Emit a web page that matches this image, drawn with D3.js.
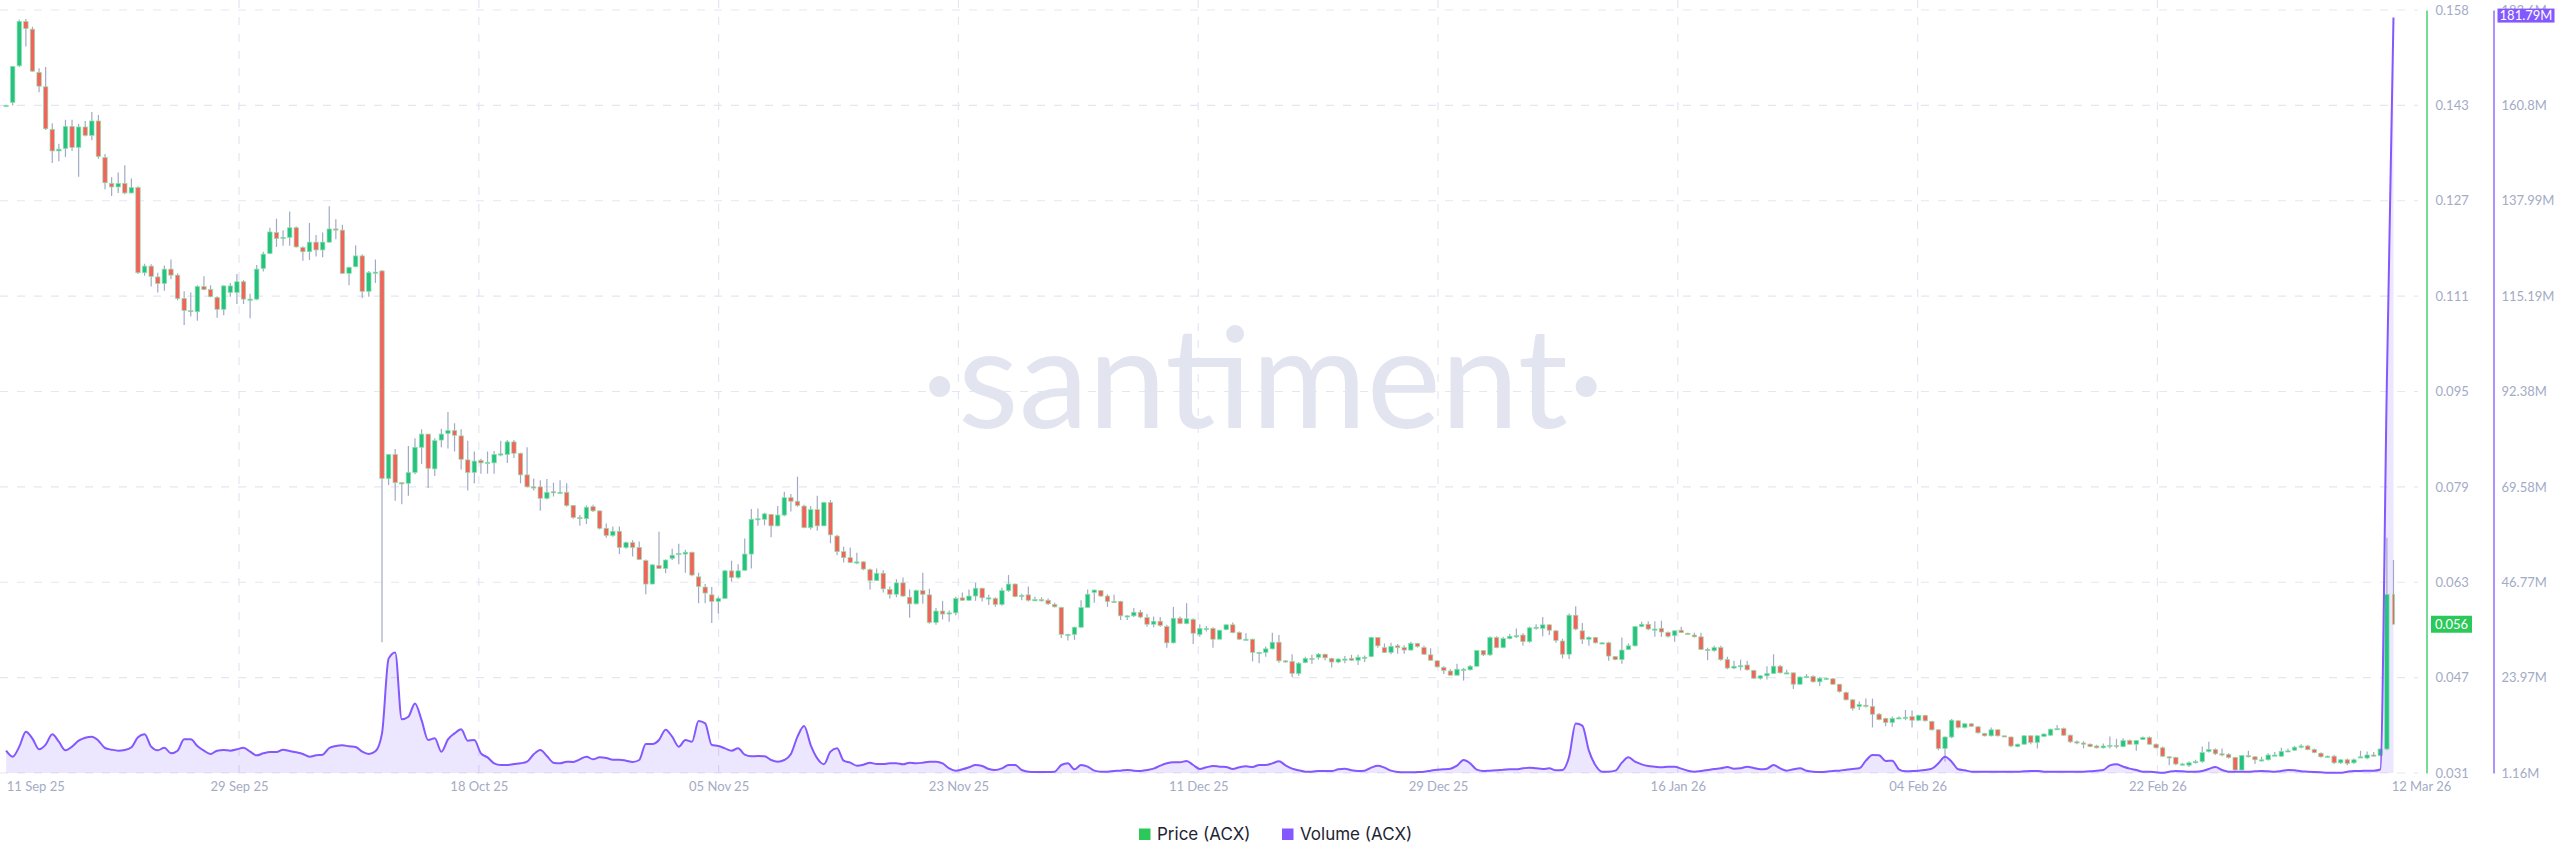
<!DOCTYPE html>
<html><head><meta charset="utf-8">
<script src="https://cdn.jsdelivr.net/npm/d3@7"></script>
<style>
html,body{margin:0;padding:0;background:#fff;}
svg{display:block;}
</style></head>
<body>
<svg id="chart" width="2560" height="867"></svg>
<script>
// ---- DATA (12h candles, ACX) ----
const opens = [
.1424,.1430,.1491,.1565,.1552,.1480,.1456,.1385,.1349,.1353,
.1390,.1355,.1389,.1375,.1399,.1338,.1295,.1289,.1295,.1279,
.1288,.1146,.1157,.1139,.1128,.1152,.1142,.1103,.1083,.1081,
.1123,.1118,.1105,.1085,.1113,.1113,.1131,.1102,.1102,.1153,
.1178,.1213,.1204,.1205,.1221,.1188,.1181,.1197,.1184,.1197,
.1219,.1217,.1145,.1156,.1174,.1115,.1146,.1149,.0803,.0843,
.0796,.0795,.0813,.0855,.0877,.0819,.0867,.0878,.0883,.0874,
.0834,.0813,.0833,.0829,.0829,.0843,.0843,.0864,.0845,.0809,
.0789,.0789,.0770,.0781,.0779,.0780,.0758,.0738,.0736,.0756,
.0749,.0720,.0708,.0715,.0688,.0696,.0688,.0666,.0627,.0658,
.0653,.0670,.0677,.0677,.0680,.0639,.0622,.0609,.0598,.0603,
.0649,.0638,.0650,.0677,.0735,.0735,.0743,.0724,.0742,.0771,
.0765,.0757,.0721,.0751,.0724,.0763,.0707,.0681,.0671,.0663,
.0664,.0651,.0633,.0645,.0618,.0610,.0629,.0605,.0594,.0616,
.0609,.0563,.0582,.0577,.0579,.0604,.0600,.0607,.0620,.0604,
.0603,.0593,.0616,.0627,.0606,.0609,.0600,.0601,.0600,.0593,
.0588,.0543,.0543,.0555,.0588,.0613,.0616,.0607,.0598,.0598,
.0574,.0574,.0580,.0571,.0560,.0565,.0556,.0529,.0570,.0561,
.0568,.0543,.0553,.0553,.0535,.0551,.0559,.0546,.0535,.0535,
.0513,.0513,.0519,.0530,.0499,.0498,.0478,.0496,.0503,.0505,
.0510,.0503,.0497,.0502,.0503,.0500,.0505,.0506,.0538,.0521,
.0513,.0524,.0521,.0517,.0528,.0521,.0509,.0499,.0488,.0482,
.0475,.0485,.0484,.0490,.0516,.0509,.0538,.0521,.0536,.0540,
.0542,.0531,.0554,.0553,.0559,.0549,.0532,.0510,.0575,.0549,
.0535,.0538,.0529,.0529,.0506,.0501,.0518,.0524,.0556,.0560,
.0552,.0553,.0546,.0541,.0550,.0545,.0542,.0539,.0518,.0516,
.0521,.0501,.0487,.0490,.0492,.0483,.0470,.0474,.0478,.0490,
.0479,.0479,.0460,.0472,.0473,.0464,.0470,.0469,.0460,.0446,
.0434,.0423,.0425,.0423,.0410,.0403,.0396,.0404,.0405,.0406,
.0400,.0408,.0398,.0384,.0353,.0372,.0399,.0388,.0394,.0389,
.0378,.0374,.0384,.0374,.0372,.0356,.0360,.0374,.0363,.0373,
.0375,.0385,.0386,.0375,.0364,.0362,.0360,.0357,.0354,.0357,
.0358,.0356,.0366,.0360,.0368,.0371,.0360,.0354,.0339,.0338,
.0327,.0325,.0329,.0331,.0348,.0351,.0344,.0343,.0338,.0317,
.0341,.0339,.0334,.0334,.0342,.0340,.0348,.0350,.0355,.0357,
.0351,.0345,.0339,.0340,.0329,.0334,.0329,.0338,.0337,.0342,
.0341,.0352,.0610];
const highs = [
.1426,.1490,.1568,.1569,.1556,.1487,.1489,.1395,.1361,.1401,
.1401,.1394,.1399,.1414,.1409,.1344,.1305,.1313,.1325,.1303,
.1290,.1161,.1160,.1146,.1158,.1168,.1145,.1115,.1113,.1125,
.1140,.1125,.1107,.1125,.1129,.1144,.1134,.1111,.1159,.1181,
.1221,.1236,.1217,.1248,.1223,.1190,.1229,.1209,.1213,.1257,
.1235,.1226,.1156,.1192,.1177,.1149,.1168,.1150,.0843,.0852,
.0797,.0857,.0870,.0885,.0877,.0870,.0886,.0914,.0895,.0885,
.0866,.0848,.0836,.0848,.0849,.0866,.0867,.0867,.0846,.0855,
.0803,.0800,.0802,.0796,.0800,.0795,.0758,.0742,.0758,.0759,
.0749,.0728,.0723,.0723,.0698,.0700,.0698,.0668,.0660,.0714,
.0668,.0686,.0694,.0684,.0681,.0646,.0627,.0622,.0606,.0651,
.0666,.0660,.0703,.0752,.0753,.0746,.0744,.0757,.0781,.0777,
.0806,.0759,.0757,.0774,.0764,.0767,.0709,.0689,.0688,.0679,
.0665,.0653,.0653,.0650,.0623,.0635,.0638,.0618,.0618,.0646,
.0619,.0587,.0599,.0583,.0606,.0613,.0618,.0629,.0621,.0609,
.0605,.0621,.0642,.0628,.0611,.0623,.0606,.0605,.0603,.0596,
.0589,.0544,.0556,.0600,.0618,.0618,.0617,.0610,.0609,.0599,
.0575,.0587,.0584,.0577,.0573,.0572,.0559,.0589,.0573,.0595,
.0570,.0560,.0557,.0555,.0551,.0560,.0563,.0548,.0545,.0536,
.0514,.0523,.0546,.0542,.0500,.0510,.0497,.0506,.0509,.0512,
.0511,.0504,.0503,.0507,.0509,.0509,.0508,.0539,.0538,.0528,
.0529,.0527,.0525,.0531,.0529,.0524,.0520,.0500,.0490,.0485,
.0494,.0487,.0492,.0517,.0517,.0540,.0540,.0539,.0544,.0553,
.0545,.0556,.0560,.0572,.0560,.0550,.0536,.0578,.0590,.0562,
.0540,.0539,.0530,.0531,.0507,.0538,.0528,.0557,.0564,.0565,
.0565,.0566,.0548,.0550,.0556,.0546,.0546,.0546,.0521,.0524,
.0524,.0506,.0499,.0501,.0499,.0484,.0475,.0490,.0510,.0492,
.0484,.0479,.0473,.0477,.0475,.0472,.0471,.0470,.0460,.0448,
.0435,.0431,.0436,.0436,.0412,.0404,.0406,.0406,.0417,.0416,
.0409,.0409,.0399,.0385,.0373,.0402,.0400,.0395,.0395,.0390,
.0379,.0388,.0385,.0374,.0373,.0361,.0375,.0375,.0375,.0378,
.0386,.0392,.0388,.0376,.0366,.0365,.0361,.0359,.0361,.0373,
.0369,.0370,.0368,.0367,.0373,.0373,.0361,.0356,.0340,.0339,
.0329,.0331,.0334,.0356,.0364,.0353,.0353,.0345,.0339,.0342,
.0349,.0340,.0339,.0345,.0347,.0354,.0353,.0357,.0360,.0359,
.0353,.0346,.0341,.0342,.0335,.0336,.0336,.0349,.0348,.0347,
.0353,.0704,.0667];
const lows = [
.1423,.1425,.1489,.1523,.1481,.1447,.1384,.1329,.1332,.1339,
.1349,.1306,.1373,.1367,.1336,.1285,.1274,.1279,.1277,.1278,
.1144,.1141,.1123,.1113,.1116,.1135,.1100,.1059,.1073,.1066,
.1117,.1105,.1071,.1075,.1106,.1094,.1094,.1070,.1100,.1148,
.1177,.1189,.1191,.1191,.1188,.1166,.1167,.1173,.1172,.1196,
.1202,.1144,.1125,.1155,.1104,.1106,.1129,.0530,.0792,.0766,
.0760,.0774,.0810,.0827,.0787,.0807,.0855,.0853,.0848,.0818,
.0783,.0795,.0811,.0811,.0811,.0840,.0829,.0837,.0795,.0788,
.0783,.0749,.0768,.0773,.0778,.0756,.0736,.0724,.0727,.0747,
.0718,.0704,.0706,.0677,.0686,.0673,.0667,.0610,.0627,.0652,
.0645,.0667,.0660,.0646,.0640,.0595,.0595,.0562,.0578,.0603,
.0631,.0636,.0649,.0653,.0724,.0725,.0705,.0723,.0740,.0748,
.0756,.0720,.0718,.0716,.0724,.0695,.0675,.0663,.0662,.0660,
.0650,.0618,.0632,.0613,.0603,.0605,.0606,.0571,.0593,.0594,
.0561,.0559,.0568,.0564,.0575,.0599,.0599,.0599,.0598,.0592,
.0589,.0591,.0614,.0605,.0600,.0598,.0599,.0598,.0592,.0588,
.0537,.0533,.0534,.0554,.0588,.0596,.0606,.0589,.0596,.0567,
.0567,.0572,.0570,.0556,.0555,.0556,.0521,.0528,.0560,.0560,
.0527,.0539,.0548,.0521,.0535,.0550,.0545,.0534,.0534,.0498,
.0495,.0506,.0518,.0496,.0496,.0472,.0474,.0495,.0494,.0501,
.0500,.0488,.0495,.0495,.0499,.0492,.0497,.0505,.0521,.0512,
.0510,.0511,.0511,.0516,.0521,.0509,.0499,.0488,.0477,.0475,
.0475,.0466,.0483,.0489,.0507,.0507,.0520,.0520,.0535,.0537,
.0524,.0529,.0551,.0540,.0542,.0529,.0503,.0502,.0550,.0527,
.0524,.0528,.0528,.0499,.0500,.0494,.0517,.0523,.0555,.0550,
.0539,.0539,.0538,.0531,.0546,.0543,.0538,.0517,.0500,.0514,
.0499,.0485,.0485,.0483,.0483,.0469,.0468,.0468,.0477,.0478,
.0478,.0452,.0459,.0471,.0463,.0457,.0467,.0459,.0446,.0433,
.0416,.0417,.0421,.0388,.0400,.0390,.0389,.0403,.0400,.0388,
.0399,.0398,.0383,.0350,.0331,.0370,.0386,.0386,.0389,.0378,
.0373,.0373,.0373,.0372,.0355,.0355,.0359,.0360,.0353,.0372,
.0374,.0384,.0374,.0362,.0360,.0353,.0355,.0353,.0353,.0353,
.0353,.0355,.0359,.0349,.0367,.0359,.0353,.0339,.0325,.0325,
.0325,.0322,.0328,.0329,.0346,.0342,.0340,.0336,.0316,.0316,
.0338,.0327,.0331,.0333,.0341,.0339,.0347,.0349,.0353,.0350,
.0345,.0338,.0338,.0327,.0327,.0325,.0327,.0337,.0335,.0339,
.0340,.0350,.0560];
const closes = [
.1425,.1490,.1565,.1553,.1482,.1457,.1386,.1349,.1352,.1390,
.1355,.1389,.1375,.1399,.1340,.1296,.1289,.1295,.1279,.1288,
.1146,.1157,.1140,.1128,.1152,.1142,.1103,.1083,.1082,.1123,
.1118,.1106,.1085,.1124,.1124,.1131,.1102,.1102,.1152,.1177,
.1214,.1203,.1205,.1221,.1189,.1181,.1197,.1184,.1197,.1219,
.1217,.1145,.1155,.1174,.1115,.1146,.1147,.0803,.0843,.0796,
.0795,.0813,.0855,.0877,.0820,.0866,.0877,.0883,.0875,.0835,
.0813,.0832,.0829,.0830,.0843,.0844,.0864,.0845,.0809,.0789,
.0788,.0770,.0780,.0779,.0780,.0758,.0738,.0736,.0755,.0749,
.0720,.0708,.0715,.0688,.0696,.0688,.0668,.0627,.0659,.0653,
.0667,.0675,.0678,.0680,.0642,.0623,.0612,.0598,.0603,.0649,
.0638,.0649,.0677,.0735,.0736,.0744,.0724,.0742,.0771,.0765,
.0758,.0721,.0751,.0724,.0763,.0709,.0681,.0671,.0663,.0664,
.0652,.0633,.0645,.0619,.0610,.0629,.0607,.0594,.0616,.0610,
.0563,.0582,.0577,.0579,.0603,.0600,.0607,.0620,.0604,.0604,
.0593,.0616,.0627,.0606,.0608,.0600,.0601,.0599,.0594,.0589,
.0543,.0543,.0555,.0588,.0610,.0617,.0607,.0598,.0597,.0574,
.0574,.0580,.0572,.0560,.0565,.0558,.0529,.0570,.0561,.0569,
.0545,.0553,.0553,.0535,.0550,.0559,.0546,.0535,.0535,.0513,
.0513,.0519,.0530,.0499,.0498,.0478,.0495,.0503,.0502,.0510,
.0504,.0497,.0502,.0502,.0500,.0505,.0505,.0538,.0524,.0513,
.0523,.0521,.0517,.0528,.0523,.0510,.0500,.0489,.0483,.0475,
.0485,.0485,.0490,.0516,.0509,.0538,.0521,.0536,.0540,.0541,
.0531,.0554,.0555,.0559,.0550,.0533,.0510,.0575,.0552,.0535,
.0538,.0529,.0529,.0507,.0501,.0517,.0524,.0556,.0560,.0552,
.0552,.0547,.0540,.0549,.0546,.0544,.0539,.0518,.0516,.0521,
.0501,.0487,.0490,.0491,.0484,.0470,.0474,.0478,.0490,.0479,
.0479,.0460,.0472,.0473,.0464,.0470,.0470,.0460,.0448,.0434,
.0420,.0426,.0423,.0410,.0401,.0396,.0403,.0404,.0405,.0400,
.0408,.0399,.0384,.0353,.0372,.0400,.0388,.0394,.0390,.0379,
.0374,.0384,.0374,.0373,.0357,.0360,.0374,.0363,.0374,.0377,
.0385,.0386,.0375,.0364,.0362,.0361,.0356,.0354,.0357,.0358,
.0357,.0366,.0360,.0366,.0371,.0360,.0354,.0340,.0338,.0327,
.0327,.0329,.0331,.0346,.0351,.0344,.0343,.0338,.0317,.0341,
.0339,.0334,.0334,.0342,.0342,.0348,.0349,.0355,.0357,.0351,
.0346,.0339,.0340,.0329,.0334,.0328,.0334,.0339,.0342,.0341,
.0352,.0610,.0560];
// volume in millions
const volumes = [
6.5,5.07,7.46,11.04,9.37,6.82,7.93,10.4,8.65,6.58,
7.46,8.89,9.6,9.85,8.89,7.14,6.74,6.5,6.66,7.3,
9.69,10.4,7.46,6.58,7.22,5.86,6.5,9.21,9.21,7.62,
6.5,5.7,6.5,6.66,6.5,6.82,7.22,6.26,5.38,5.86,
6.18,6.18,6.74,6.42,6.1,5.7,5.07,5.38,5.54,7.14,
7.62,7.78,7.54,7.38,6.26,5.7,6.34,10.64,28.5,30.0,
14.0,14.6,17.8,13.8,9.05,9.45,6.26,9.21,10.64,11.6,
8.89,9.05,5.86,4.9,3.47,3.07,3.07,3.31,3.47,3.87,
5.62,6.66,5.22,3.63,3.47,3.87,3.79,4.43,5.07,4.43,
4.91,4.75,4.35,4.35,4.11,3.79,4.27,8.1,8.1,9.05,
11.52,9.85,7.46,9.05,8.65,13.59,13.03,7.85,7.62,7.06,
6.5,7.06,5.54,5.15,5.22,5.15,4.27,3.87,4.27,5.7,
9.85,12.4,7.85,4.67,3.24,6.26,7.06,4.11,3.63,2.91,
3.15,3.63,3.31,3.31,3.47,3.47,3.24,3.63,3.47,3.63,
3.87,3.87,3.47,2.28,1.72,2.04,2.52,3.07,2.83,2.12,
1.88,2.28,3.07,3.07,1.88,1.48,1.4,1.4,1.4,1.48,
3.07,3.47,2.04,3.07,2.68,1.72,1.48,1.48,1.64,1.72,
1.88,1.72,1.64,1.88,2.2,2.91,3.47,3.71,3.71,4.03,
3.07,2.12,2.52,2.83,2.68,2.6,2.12,2.52,2.76,2.6,
3.07,3.07,3.47,3.95,3.0,2.2,1.8,1.48,1.48,1.64,
1.64,1.64,2.04,2.2,1.8,1.64,1.72,2.44,2.91,2.44,
1.72,1.4,1.32,1.32,1.4,1.48,1.72,1.96,2.04,2.2,
2.91,4.27,3.47,1.96,1.64,1.72,1.8,1.96,2.04,2.04,
2.28,2.44,2.28,2.12,2.28,1.8,1.88,5.07,13.0,12.5,
6.5,3.0,1.48,1.48,1.72,3.63,4.91,3.87,3.23,2.83,
2.67,2.52,2.67,2.67,2.2,1.72,1.48,1.64,1.88,2.12,
2.28,2.59,2.2,2.28,2.67,2.36,2.04,2.2,3.07,2.28,
1.72,2.04,2.28,1.72,1.48,1.4,1.48,1.64,1.72,1.96,
2.12,2.28,4.11,5.46,5.38,4.03,4.11,2.04,1.56,1.64,
1.72,1.88,2.2,3.47,5.07,3.87,2.04,1.8,1.48,1.48,
1.48,1.48,1.48,1.48,1.48,1.48,1.56,1.64,1.64,1.48,
1.48,1.48,1.48,1.48,1.48,1.48,1.56,1.72,1.88,2.99,
3.23,2.68,2.2,1.88,1.48,1.48,1.32,1.2,1.48,1.64,
1.56,1.48,1.48,1.64,2.12,2.6,1.88,1.48,1.48,1.48,
1.48,1.56,1.64,1.56,1.48,1.64,1.88,1.8,1.56,1.48,
1.4,1.32,1.24,1.2,1.2,1.48,1.64,1.64,1.72,1.72,
2.0,95,181.79];

const priceTickValues = [0.0312,0.0471,0.0630,0.0789,0.0948,0.1107,0.1266,0.1425,0.1584];
const priceTickLabels = ["0.031","0.047","0.063","0.079","0.095","0.111","0.127","0.143","0.158"];
const volumeTickValues = [1.16,23.97,46.77,69.58,92.38,115.19,137.99,160.8,183.6];
const volumeTickLabels = ["1.16M","23.97M","46.77M","69.58M","92.38M","115.19M","137.99M","160.8M","183.6M"];
const dateTickLabels = ["11 Sep 25","29 Sep 25","18 Oct 25","05 Nov 25","23 Nov 25","11 Dec 25","29 Dec 25","16 Jan 26","04 Feb 26","22 Feb 26","12 Mar 26"];
const seriesNames = ["Price (ACX)","Volume (ACX)"];

// ---- STYLE ----
const GREEN = "#26c281", RED = "#f4625b", WICK = "#a2a9c6";
const AXIS_GREEN = "#2bc95a", PURPLE = "#8358ff";
const LABEL = "#a3abc5", GRID = "#e4e7f1";

const DAY = 864e5;
const domainStart = Date.UTC(2025, 8, 11, 16, 33);
const candleStart = Date.UTC(2025, 8, 12, 5, 0);
const times = closes.map((_, i) => new Date(candleStart + i * DAY / 2));
const dateTicks = dateTickLabels.map((_, k) => new Date(domainStart + k * 18.18 * DAY));

const plotBottom = 773, plotTop = 10, gridRight = 2418;
const priceAxisX = 2426.5, volAxisX = 2493.5;

const x = d3.scaleTime().domain([new Date(domainStart), new Date(domainStart + 184 * DAY)])
  .range([-0.75, -0.75 + 184 * 13.19]);
const yP = d3.scaleLinear().domain([priceTickValues[0], priceTickValues[priceTickValues.length-1]]).range([plotBottom, plotTop]);
const yV = d3.scaleLinear().domain([volumeTickValues[0], volumeTickValues[volumeTickValues.length-1]]).range([plotBottom, plotTop]);

const svg = d3.select("#chart");
svg.append("rect").attr("width", 2560).attr("height", 867).attr("fill", "#fff");

// grid
const grid = svg.append("g");
grid.selectAll("line.h").data(priceTickValues).join("line")
  .attr("x1", 0).attr("x2", gridRight).attr("y1", d => yP(d)).attr("y2", d => yP(d))
  .attr("stroke", GRID).attr("stroke-width", 1.2).attr("stroke-dasharray", "8 9");
grid.selectAll("line.v").data(dateTicks.slice(1, -1)).join("line")
  .attr("x1", d => x(d)).attr("x2", d => x(d)).attr("y1", 0).attr("y2", plotBottom)
  .attr("stroke", GRID).attr("stroke-width", 1.2).attr("stroke-dasharray", "8 9");

// watermark
svg.append("text").attr("x", 1263).attr("y", 428).attr("text-anchor", "middle")
  .attr("font-family", "Lato, sans-serif").attr("font-weight", 400).attr("font-size", 140)
  .attr("fill", "#e2e5f0").text("·santiment·");

// volume area
const vData = volumes.map((v, i) => ({t: times[i], v}));
const area = d3.area().x(d => x(d.t)).y0(plotBottom).y1(d => yV(d.v)).curve(d3.curveMonotoneX);
const line = d3.line().x(d => x(d.t)).y(d => yV(d.v)).curve(d3.curveMonotoneX);
svg.append("path").datum(vData).attr("d", area).attr("fill", PURPLE).attr("fill-opacity", 0.15);

// candles (the last one is the current, partial period and is drawn narrower)
const bodyW = 4.4;
const lastIdx = closes.length - 1;
const cg = svg.append("g");
const cData = closes.map((c, i) => ({t: times[i], o: opens[i], h: highs[i], l: lows[i], c, w: i === lastIdx ? 2 : bodyW}));
cg.selectAll("line.w").data(cData).join("line")
  .attr("x1", d => x(d.t)).attr("x2", d => x(d.t))
  .attr("y1", d => yP(d.h)).attr("y2", d => yP(d.l))
  .attr("stroke", WICK).attr("stroke-width", 1.2);
cg.selectAll("rect.b").data(cData).join("rect")
  .attr("x", d => x(d.t) - d.w / 2).attr("width", d => d.w)
  .attr("y", d => Math.min(yP(d.o), yP(d.c)))
  .attr("height", d => Math.max(1.2, Math.abs(yP(d.o) - yP(d.c))))
  .attr("fill", d => d.c >= d.o ? GREEN : RED)
  .attr("stroke", "#92e0aa").attr("stroke-width", 0.7);

// volume line
svg.append("path").datum(vData).attr("d", line).attr("fill", "none")
  .attr("stroke", PURPLE).attr("stroke-width", 2);

// x axis
const xAxis = svg.append("g").attr("transform", `translate(0,${plotBottom + 6})`)
  .call(d3.axisBottom(x).tickValues(dateTicks).tickFormat((d, i) => dateTickLabels[i]).tickSize(0).tickPadding(3));
xAxis.select(".domain").remove();
xAxis.selectAll("text").attr("fill", LABEL).attr("font-family", "Lato, sans-serif").attr("font-size", 13);
xAxis.selectAll(".tick").filter((d, i) => i === 0).select("text").attr("text-anchor", "start").attr("x", 7);
xAxis.selectAll(".tick").filter((d, i) => i === dateTicks.length - 1).select("text").attr("text-anchor", "start").attr("x", -6);

// price axis
const pAxis = svg.append("g").attr("transform", `translate(${priceAxisX},0)`)
  .call(d3.axisRight(yP).tickValues(priceTickValues).tickFormat((d, i) => priceTickLabels[i]).tickSize(0).tickSizeOuter(0).tickPadding(9));
pAxis.select(".domain").attr("stroke", AXIS_GREEN).attr("stroke-width", 1.3);
pAxis.selectAll("text").attr("fill", LABEL).attr("font-family", "Lato, sans-serif").attr("font-size", 13);

// volume axis
const vAxis = svg.append("g").attr("transform", `translate(${volAxisX},0)`)
  .call(d3.axisRight(yV).tickValues(volumeTickValues).tickFormat((d, i) => volumeTickLabels[i]).tickSize(0).tickSizeOuter(0).tickPadding(8));
vAxis.select(".domain").attr("stroke", PURPLE).attr("stroke-width", 1.3);
vAxis.selectAll("text").attr("fill", LABEL).attr("font-family", "Lato, sans-serif").attr("font-size", 13);

// last value badges
const lastC = closes[lastIdx];
const by = yP(lastC);
svg.append("rect").attr("x", priceAxisX + 4.5).attr("y", by - 8.5).attr("width", 41).attr("height", 17).attr("fill", AXIS_GREEN);
svg.append("text").attr("x", priceAxisX + 25).attr("y", by).attr("dy", "0.35em").attr("text-anchor", "middle")
  .attr("fill", "#fff").attr("font-family", "Lato, sans-serif").attr("font-size", 13).text(d3.format(".3f")(lastC));
const lastV = volumes[volumes.length - 1];
const vy = yV(lastV) - 2;
svg.append("rect").attr("x", volAxisX + 4).attr("y", vy - 7).attr("width", 57).attr("height", 14).attr("fill", PURPLE);
svg.append("text").attr("x", volAxisX + 32.5).attr("y", vy).attr("dy", "0.35em").attr("text-anchor", "middle")
  .attr("fill", "#fff").attr("font-family", "Lato, sans-serif").attr("font-size", 13).text(lastV.toFixed(2) + "M");

// legend
const legend = svg.append("g").attr("transform", "translate(0,834)");
const lx = [1139, 1282];
const lc = [AXIS_GREEN, PURPLE];
seriesNames.forEach((n, i) => {
  legend.append("rect").attr("x", lx[i]).attr("y", -5.5).attr("width", 11.5).attr("height", 11.5).attr("fill", lc[i]);
  legend.append("text").attr("x", lx[i] + 18).attr("y", 0).attr("dy", "0.35em")
    .attr("font-family", "Inter, sans-serif").attr("font-size", 17).attr("fill", "#1f2433").text(n);
});
</script>
</body></html>
